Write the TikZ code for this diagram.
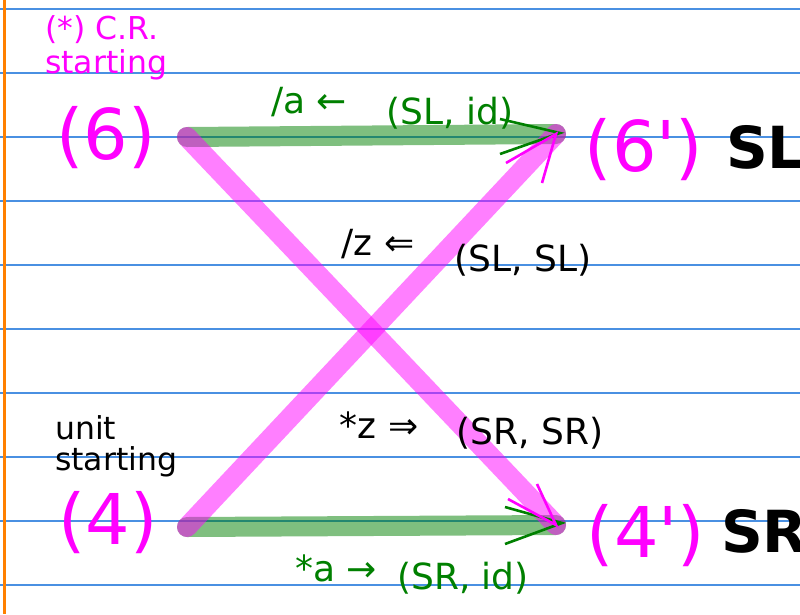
\documentclass[tikz,border=0pt]{standalone}
\usepackage{fontspec}
\setmainfont{DejaVu Sans}[Ligatures=TeXOff]
\usetikzlibrary{calc}
\definecolor{ruleblue}{RGB}{74,144,226}
\definecolor{margin}{RGB}{255,128,0}
\definecolor{ink}{RGB}{0,128,0}
\definecolor{pink}{RGB}{255,0,255}
\tikzset{
  band/.style={line width=20pt, line cap=round, opacity=0.5},
  tip/.style={line width=2.6pt},
  state/.style={text=pink, inner sep=0pt, font=\fontsize{70}{70}\selectfont},
  side/.style={inner sep=0pt, font=\fontsize{58}{58}\selectfont\bfseries},
  lbl/.style={inner sep=0pt, font=\fontsize{36}{36}\selectfont},
  note/.style={inner sep=0pt, anchor=west, font=\fontsize{31.5}{31.5}\selectfont}
}
\begin{document}
\begin{tikzpicture}[x=1pt, y=-1pt]
    \useasboundingbox (0,0) rectangle (800,614);
    \fill[white] (0,0) rectangle (800,614);
    \foreach \y in {9,73,...,585}
        \draw[ruleblue, line width=1.2pt] (0,\y) -- (800,\y);
    \draw[margin, line width=3pt] (4,0) -- (4,614);

    \coordinate (a6) at (187,137);
    \coordinate (b6) at (556,134);
    \coordinate (a4) at (187,527);
    \coordinate (b4) at (556,525);

    \draw[band, ink] (a6) -- (b6);
    \draw[band, ink] (a4) -- (b4);
    \draw[band, pink] (a4) -- (b6);
    \draw[band, pink] (a6) -- (b4);

    \draw[tip, ink] (b6) ++(-56,-15) -- ($(b6)+(4,-1)$) -- ++(-60,21);
    \draw[tip, pink] (b6) ++(-50,29) -- (b6) -- ++(-14,49);
    \draw[tip, ink] (b4) ++(-51,-18) -- ($(b4)+(6,-2)$) -- ++(-57,21);
    \draw[tip, pink] (b4) ++(-48,-26) -- (b4) -- ++(-19,-41);

    \node[note, text=pink] (cr) at (45,30) {(*) C.R.};
    \node[note, text=pink] (crs) at (45,65) {starting};
    \node[note] (unit) at (55,428) {unit};
    \node[note] (units) at (55,462) {starting};

    \node[state] (n6) at (106,138) {(6)};
    \node[state] (n6p) at (644,150) {(6')};
    \node[state] (n4) at (108,523) {(4)};
    \node[state] (n4p) at (646,536) {(4')};
    \node[side, anchor=west] (sl) at (726,147) {SL};
    \node[side, anchor=west] (sr) at (721,531) {SR};

    \node[lbl, text=ink] (la) at (309,102) {/a ←};
    \node[lbl, text=ink] (la2) at (450,113) {(SL, id)};
    \node[lbl] (lz) at (378,244) {/z ⇐};
    \node[lbl] (lz2) at (523,260) {(SL, SL)};
    \node[lbl] (sz) at (379,425) {*z ⇒};
    \node[lbl] (sz2) at (530,433) {(SR, SR)};
    \node[lbl, text=ink] (sa) at (336,568) {*a →};
    \node[lbl, text=ink] (sa2) at (463,578) {(SR, id)};
\end{tikzpicture}
\end{document}
